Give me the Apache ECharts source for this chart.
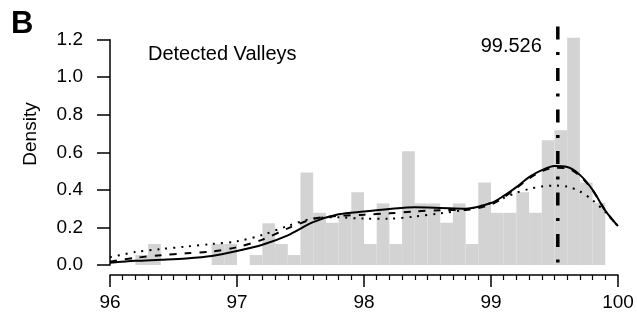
<!DOCTYPE html>
<html>
<head>
<meta charset="utf-8">
<script src="https://cdn.jsdelivr.net/npm/echarts@6/dist/echarts.min.js"></script>
<style>
html,body{margin:0;padding:0;background:#fff;}
#c{width:637px;height:327px;}
</style>
</head>
<body>
<div id="c"></div>
<script>
// Histogram bins (left edge) and densities
const binLeft = [96.0,96.1,96.2,96.3,96.4,96.5,96.6,96.7,96.8,96.9,97.0,97.1,97.2,97.3,97.4,97.5,97.6,97.7,97.8,97.9,98.0,98.1,98.2,98.3,98.4,98.5,98.6,98.7,98.8,98.9,99.0,99.1,99.2,99.3,99.4,99.5,99.6,99.7,99.8];
const binWidth = 0.1;
const density = [0,0,0.053,0.112,0,0,0,0,0.112,0.112,0,0.053,0.222,0.112,0.053,0.493,0.278,0.225,0.278,0.387,0.112,0.328,0.112,0.606,0.328,0.328,0.225,0.328,0.112,0.44,0.278,0.278,0.387,0.278,0.665,0.718,1.211,0.44,0.331];

// Density curves
const curveX = [96.0,96.2,96.4,96.6,96.8,97.0,97.2,97.4,97.6,97.8,98.0,98.2,98.4,98.6,98.8,99.0,99.1,99.2,99.3,99.4,99.5,99.6,99.7,99.8,99.9,100.0];
const solidY = [0.012,0.022,0.028,0.035,0.048,0.075,0.108,0.158,0.228,0.270,0.285,0.298,0.307,0.304,0.300,0.330,0.368,0.415,0.468,0.505,0.527,0.522,0.480,0.400,0.290,0.207];
const dashedY = [0.018,0.038,0.052,0.062,0.072,0.095,0.135,0.195,0.245,0.262,0.268,0.275,0.285,0.292,0.293,0.322,0.360,0.410,0.460,0.500,0.518,0.515,0.475,0.398,0.290,0.205];
const dottedY = [0.041,0.069,0.085,0.098,0.112,0.126,0.160,0.208,0.248,0.254,0.247,0.247,0.258,0.275,0.295,0.330,0.357,0.385,0.405,0.418,0.423,0.418,0.392,0.345,0.282,0.207];

// Mode marker
const modeX = 99.526;
const modeLabel = '99.526';
const modeLineY = [1.27, -0.045];

// Axis ticks
const xTicks = [96, 97, 98, 99, 100];
const yTicks = [0.0, 0.2, 0.4, 0.6, 0.8, 1.0, 1.2];

const FONT = '"Liberation Sans", Arial, Helvetica, sans-serif';

const chart = echarts.init(document.getElementById('c'), null, {renderer: 'canvas'});

const histData = binLeft.map((b, i) => [b, +(b + binWidth).toFixed(2), density[i]]);
const zip = (xs, ys) => xs.map((x, i) => [x, ys[i]]);

chart.setOption({
  animation: false,
  backgroundColor: '#ffffff',
  grid: {left: 110, right: 19, top: 39.7, bottom: 62},
  xAxis: {
    type: 'value',
    min: xTicks[0], max: xTicks[xTicks.length - 1], interval: 1,
    offset: 10,
    axisLine: {show: true, onZero: false, lineStyle: {color: '#000', width: 1.5}},
    axisTick: {show: true, length: 12, lineStyle: {color: '#000', width: 1.5}},
    minorTick: {show: true, splitNumber: 10, length: 5, lineStyle: {color: '#000', width: 1.2}},
    splitLine: {show: false},
    axisLabel: {color: '#000', fontSize: 19, fontFamily: FONT, margin: 18}
  },
  yAxis: {
    type: 'value',
    min: yTicks[0], max: yTicks[yTicks.length - 1], interval: 0.2,
    axisLine: {show: true, lineStyle: {color: '#000', width: 1.5}},
    axisTick: {show: true, length: 13, lineStyle: {color: '#000', width: 1.5}},
    splitLine: {show: false},
    axisLabel: {color: '#000', fontSize: 19, fontFamily: FONT, margin: 27,
      formatter: v => v.toFixed(1)}
  },
  graphic: [
    {type: 'text', left: 11, top: 9, style: {text: 'B', font: 'bold 31px "Liberation Sans", Arial, sans-serif', fill: '#000'}},
    {type: 'text', x: 31, y: 134, rotation: Math.PI / 2, style: {text: 'Density', font: '19px ' + FONT, fill: '#000', textAlign: 'center', textVerticalAlign: 'middle'}},
    {type: 'text', x: 148, y: 54, style: {text: 'Detected Valleys', font: '20px ' + FONT, fill: '#000', textAlign: 'left', textVerticalAlign: 'middle'}}
  ],
  series: [
    {
      type: 'custom',
      data: histData,
      encode: {x: [0, 1], y: 2},
      silent: true,
      z: 1,
      renderItem: function (params, api) {
        const p0 = api.coord([api.value(0), api.value(2)]);
        const p1 = api.coord([api.value(1), 0]);
        return {type: 'rect', shape: {x: p0[0], y: p0[1], width: p1[0] - p0[0], height: p1[1] - p0[1]},
          style: {fill: '#d3d3d3'}};
      }
    },
    {type: 'line', data: zip(curveX, dottedY), smooth: 0.3, showSymbol: false, z: 3,
      lineStyle: {color: '#000', width: 2, type: [2, 6]}},
    {type: 'line', data: zip(curveX, dashedY), smooth: 0.3, showSymbol: false, z: 3,
      lineStyle: {color: '#000', width: 2, type: [7, 8]}},
    {type: 'line', data: zip(curveX, solidY), smooth: 0.3, showSymbol: false, z: 4,
      lineStyle: {color: '#000', width: 2}},
    {type: 'line', data: modeLineY.map(y => [modeX, y]), showSymbol: false, clip: false, z: 5,
      lineStyle: {color: '#000', width: 3.5, type: [13, 12.5, 3, 13]},
      markPoint: {
        symbol: 'rect', symbolSize: 0,
        label: {show: true, formatter: modeLabel, color: '#000', fontSize: 20, fontFamily: FONT, position: 'left', distance: 16},
        data: [{coord: [modeX, 1.165]}]
      }
    }
  ]
});
</script>
</body>
</html>
